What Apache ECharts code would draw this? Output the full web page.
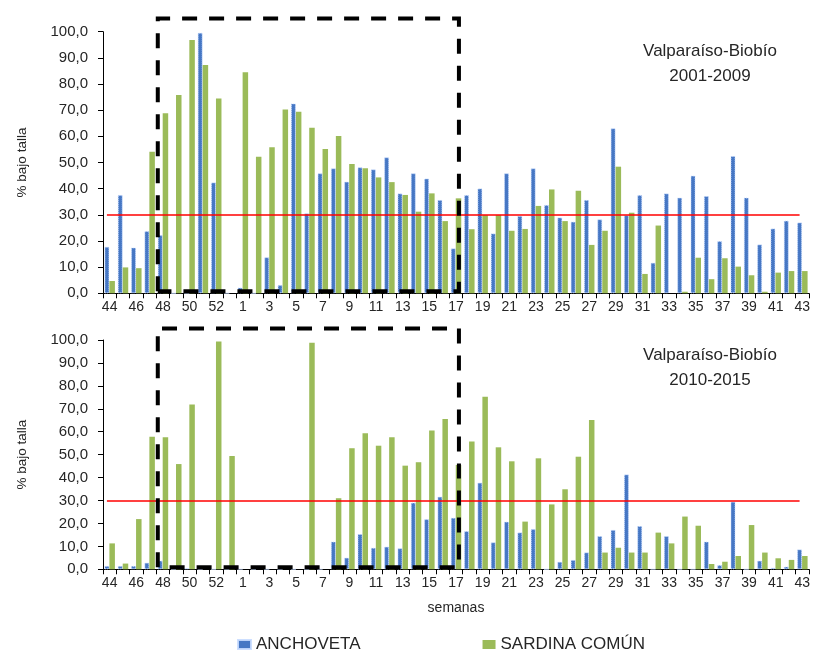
<!DOCTYPE html>
<html><head><meta charset="utf-8">
<script src="https://cdn.jsdelivr.net/npm/echarts@6/dist/echarts.min.js"></script>
<style>html,body{margin:0;padding:0;background:#fff}#c{width:814px;height:654px}</style>
</head><body><div id="c"></div>
<script>
const weeks = ['44','45','46','47','48','49','50','51','52','53','1','2','3','4','5','6','7','8','9','10','11','12','13','14','15','16','17','18','19','20','21','22','23','24','25','26','27','28','29','30','31','32','33','34','35','36','37','38','39','40','41','42','43'];
const anchTop = [17.8,37.6,17.5,23.8,22.3,0,0,99.6,42.4,0,2.2,0,13.8,3.2,72.6,30.6,45.9,47.8,42.7,48.2,47.4,52.0,38.2,45.9,43.9,35.7,17.2,37.6,40.1,22.9,45.9,29.6,47.8,33.8,29.0,27.4,35.7,28.3,63.1,29.9,37.6,11.7,38.2,36.6,45.0,37.2,20.0,52.5,36.6,18.7,24.8,27.8,27.1];
const sardTop = [4.7,9.9,9.6,54.1,68.8,75.8,96.8,87.3,74.5,0,84.5,52.2,55.8,70.3,69.4,63.3,55.2,60.1,49.4,47.8,44.3,42.5,37.6,31.2,38.2,27.6,36.3,24.5,29.9,29.9,23.9,24.6,33.4,39.7,27.6,39.2,18.5,23.9,48.4,30.8,7.4,25.9,0,0.6,13.6,5.4,13.4,10.2,6.9,0.6,7.9,8.5,8.5];
const anchBot = [1.5,1.5,1.5,2.9,3.8,0,0.5,0,0,0,0,0,0,0,0,0,0,12.1,5.1,15.4,9.4,9.9,9.2,29.1,21.9,31.7,22.5,16.7,37.8,11.8,20.8,16.1,17.6,0,3.3,4.1,7.4,14.5,17.2,41.4,18.9,0,14.5,0,0,12.1,1.9,29.5,0,3.8,0.7,1.2,8.7];
const sardBot = [11.3,2.5,21.9,57.8,57.6,45.9,71.9,0,99.3,49.4,0,0,0,0,0,98.8,0,31.0,52.8,59.3,53.9,57.6,45.2,46.7,60.5,65.6,45.5,55.7,75.3,53.2,47.1,20.8,48.4,28.3,34.9,49.1,65.1,7.3,9.4,7.3,7.3,16.0,11.3,23.0,19.0,2.3,3.3,5.8,19.3,7.3,4.8,4.1,5.8];
const yTicks = [0,10,20,30,40,50,60,70,80,90,100];
const threshold = 30;
const titles = ['Valparaíso-Biobío\n2001-2009','Valparaíso-Biobío\n2010-2015'];
const seriesNames = ['ANCHOVETA','SARDINA COMÚN'];

const FONT = 'Liberation Sans, Arial, sans-serif';
const TXT = '#262626';
const chart = echarts.init(document.getElementById('c'), null, {renderer:'canvas'});

function xAxis(gi, withName){
  return {
    type:'category', gridIndex:gi, data:weeks,
    axisLine:{lineStyle:{color:'#000',width:1}},
    axisTick:{show:true, interval:0, length:5, lineStyle:{color:'#000'}},
    axisLabel:{interval:1, color:TXT, fontSize:14, fontFamily:FONT, margin:7},
    name: withName ? 'semanas' : '', nameLocation:'middle', nameGap:32,
    nameTextStyle:{color:TXT, fontSize:14, fontFamily:FONT}
  };
}
function yAxis(gi){
  return {
    type:'value', gridIndex:gi, min:yTicks[0], max:yTicks[yTicks.length-1], interval:10,
    axisLine:{show:true, lineStyle:{color:'#000',width:1}},
    axisTick:{show:true, length:5, lineStyle:{color:'#000'}},
    splitLine:{show:false},
    axisLabel:{color:TXT, fontSize:15, fontFamily:FONT, margin:15,
      formatter:v=>v.toFixed(1).replace('.',',')},
    name:'% bajo talla', nameLocation:'middle', nameGap:74,
    nameTextStyle:{color:TXT, fontSize:13.5, fontFamily:FONT}
  };
}
const blueStyle = {color:'#4677c4', borderColor:'rgba(200,220,255,0.9)', borderWidth:1, borderType:'dotted'};
const greenStyle = {color:'#9bbb59'};
function bars(gi, anch, sard){
  return [
    {name:seriesNames[0], type:'bar', xAxisIndex:gi, yAxisIndex:gi, data:anch, barWidth:5, barGap:'0%', itemStyle:blueStyle,
     markLine:{silent:true, symbol:['none','none'], label:{show:false}, lineStyle:{color:'#ff0000', width:1.5, type:'solid'},
       data:[[{coord:[weeks[0],threshold]},{coord:[weeks[weeks.length-1],threshold]}]]}},
    {name:seriesNames[1], type:'bar', xAxisIndex:gi, yAxisIndex:gi, data:sard, barWidth:5.5, barGap:'0%', itemStyle:greenStyle}
  ];
}
chart.setOption({
  animation:false,
  textStyle:{fontFamily:FONT},
  title:[
    {text:titles[0], left:705, top:34, textAlign:'center', textStyle:{color:TXT, fontSize:17, fontWeight:'normal', lineHeight:25, fontFamily:FONT}},
    {text:titles[1], left:705, top:338, textAlign:'center', textStyle:{color:TXT, fontSize:17, fontWeight:'normal', lineHeight:25, fontFamily:FONT}}
  ],
  legend:{data:[
      {name:seriesNames[0], icon:'rect', itemStyle:{color:'#4677c4'}},
      {name:seriesNames[1], icon:'rect', itemStyle:{color:'#9bbb59'}}],
    left:232, top:631, itemGap:122, itemWidth:13, itemHeight:9,
    textStyle:{color:TXT, fontSize:17, fontFamily:FONT}},
  grid:[
    {left:103, right:5, top:31.7, height:261.6},
    {left:103, right:5, top:340, height:229.3}
  ],
  xAxis:[xAxis(0,false), xAxis(1,true)],
  yAxis:[yAxis(0), yAxis(1)],
  series:[...bars(0, anchTop, sardTop), ...bars(1, anchBot, sardBot)]
});

function box(gi){
  const x47 = chart.convertToPixel({xAxisIndex:gi}, '47');
  const x48 = chart.convertToPixel({xAxisIndex:gi}, '48');
  const x17 = chart.convertToPixel({xAxisIndex:gi}, '17');
  const x18 = chart.convertToPixel({xAxisIndex:gi}, '18');
  const xl = (x47+x48)/2 + 1.5;
  const xr = x17 + (x18-x17)*0.22;
  const yt = chart.convertToPixel({yAxisIndex:gi}, 105);
  const yb = chart.convertToPixel({yAxisIndex:gi}, 0) - 2;
  return {type:'polyline', z:100, silent:true,
    shape:{points:[[xl,yb],[xl,yt],[xr,yt],[xr,yb],[xl,yb]]},
    style:{stroke:'#000', lineWidth:4, fill:null, lineDash:[15,12]}};
}
chart.setOption({graphic:[box(0), box(1)]});
</script></body></html>
